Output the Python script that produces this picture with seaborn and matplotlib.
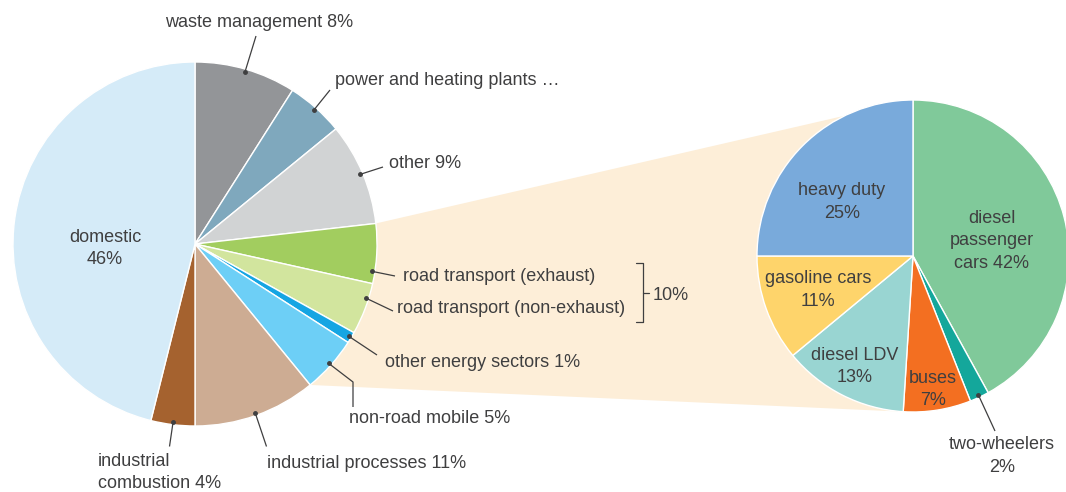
import matplotlib
matplotlib.use("Agg")
import matplotlib.pyplot as plt
import numpy as np
import seaborn as sns
from matplotlib.patches import Polygon

sns.set_theme(style="white")
plt.rcParams['font.family'] = ['Liberation Sans', 'DejaVu Sans']

W, H = 1066, 492
TXT = '#3f3f40'

# left pie: emission sources, clockwise from 12 o'clock (share in %)
sectors = ['waste management', 'power and heating plants', 'other',
           'road transport (exhaust)', 'road transport (non-exhaust)',
           'other energy sectors', 'non-road mobile', 'industrial processes',
           'industrial combustion', 'domestic']
shares = [9.0, 5.1, 9.1, 5.3, 4.6, 1.0, 5.0, 10.9, 3.9, 46.1]
sector_labels = ['waste management 8%', 'power and heating plants …', 'other 9%',
                 'road transport (exhaust)', 'road transport (non-exhaust)',
                 'other energy sectors 1%', 'non-road mobile 5%',
                 'industrial processes 11%', 'industrial\ncombustion 4%',
                 'domestic\n46%']
sector_colors = ['#939598', '#7fa8bd', '#d1d3d4', '#a2cd5f', '#d2e59e',
                 '#15a5e3', '#6dcff6', '#cdac93', '#a5622f', '#d5ebf8']

# right pie: road transport breakdown, clockwise from 12 o'clock
vehicles = ['diesel passenger cars', 'two-wheelers', 'buses', 'diesel LDV',
            'gasoline cars', 'heavy duty']
vehicle_shares = [42, 2, 7, 13, 11, 25]
vehicle_labels = ['diesel\npassenger\ncars 42%', 'two-wheelers\n2%', 'buses\n7%',
                  'diesel LDV\n13%', 'gasoline cars\n11%', 'heavy duty\n25%']
vehicle_colors = ['#80c99a', '#14a79b', '#f36f21', '#99d5d2', '#fed46b', '#79aadb']

road_total = '10%'

fig = plt.figure(figsize=(W / 100, H / 100), dpi=100)
ax = fig.add_axes([0, 0, 1, 1])

L_C, L_R = (195, H - 244), 182
R_C, R_R = (913, H - 256), 156

wl, _ = ax.pie(shares, colors=sector_colors, startangle=90, counterclock=False,
               center=L_C, radius=L_R,
               wedgeprops=dict(edgecolor='white', linewidth=1))
wr, _ = ax.pie(vehicle_shares, colors=vehicle_colors, startangle=90, counterclock=False,
               center=R_C, radius=R_R,
               wedgeprops=dict(edgecolor='white', linewidth=1))
ax.set_xlim(0, W)
ax.set_ylim(0, H)
ax.set_aspect('auto')
ax.axis('off')


def edge(c, r, ang, f=1.0):
    a = np.deg2rad(ang)
    return c[0] + f * r * np.cos(a), c[1] + f * r * np.sin(a)


# zoom band from the transport wedges to the second pie
p_top = edge(L_C, L_R, wl[3].theta2)
p_bot = edge(L_C, L_R, wl[6].theta1)
q_top = edge(R_C, R_R, wr[0].theta2)
q_bot = edge(R_C, R_R, wr[2].theta1)
ax.add_patch(Polygon([L_C, p_top, q_top, q_bot, p_bot], closed=True,
                     facecolor='#fdeed8', edgecolor='none', zorder=0))


def put(x, y, s, ha='left', step=22.5):
    for i, line in enumerate(s.split('\n')):
        ax.text(x, H - (y + i * step), line, ha=ha, va='baseline',
                fontsize=13, color=TXT, zorder=5)


def leader(wedge, c, r, pts, f=0.5):
    ang = wedge.theta2 - f * (wedge.theta2 - wedge.theta1)
    x0, y0 = edge(c, r, ang, 0.985)
    xs = [x0] + [p[0] for p in pts]
    ys = [y0] + [H - p[1] for p in pts]
    ax.plot(xs, ys, color=TXT, lw=0.9, zorder=4, solid_capstyle='butt')
    ax.plot([x0], [y0], 'o', color=TXT, ms=2.5, zorder=4)


# (text anchor, leader end points, dot position along wedge) in pixels
left_layout = [
    ((165, 27), [(256, 36)], 0.5),
    ((335, 85), [(330, 90)], 0.5),
    ((389, 168), [(383, 167)], 0.5),
    ((403, 281), [(395, 276)], 0.8),
    ((397, 313), [(393, 311)], 0.3),
    ((385, 367), [(377, 355)], 0.5),
    ((349, 423), [(353, 382), (353, 407)], 0.5),
    ((267, 468), [(266.5, 446.5)], 0.5),
    ((98, 466.5), [(169.5, 446.5)], 0.5),
]
for i, (pos, pts, f) in enumerate(left_layout):
    leader(wl[i], L_C, L_R, pts, f)
    put(pos[0], pos[1], sector_labels[i], step=21.5)
put(105, 242, sector_labels[9], ha='center')

# bracket grouping both road transport wedges
bx = 643.3
ax.plot([bx - 7, bx, bx, bx - 7], [H - 262.7, H - 262.7, H - 322.3, H - 322.3],
        color=TXT, lw=0.9)
ax.plot([bx, bx + 6], [H - 292.7, H - 292.7], color=TXT, lw=0.9)
put(653, 299.5, road_total)

# right pie labels
right_layout = [(992, 222.7), None, (933, 382.7), (855, 360), (818, 283.3), (842, 195)]
for i, pos in enumerate(right_layout):
    if pos is not None:
        put(pos[0], pos[1], vehicle_labels[i], ha='center')
leader(wr[1], R_C, R_R, [(995, 431)])
put(1002, 449, vehicle_labels[1], ha='center')

fig.savefig('out.png', dpi=100)
